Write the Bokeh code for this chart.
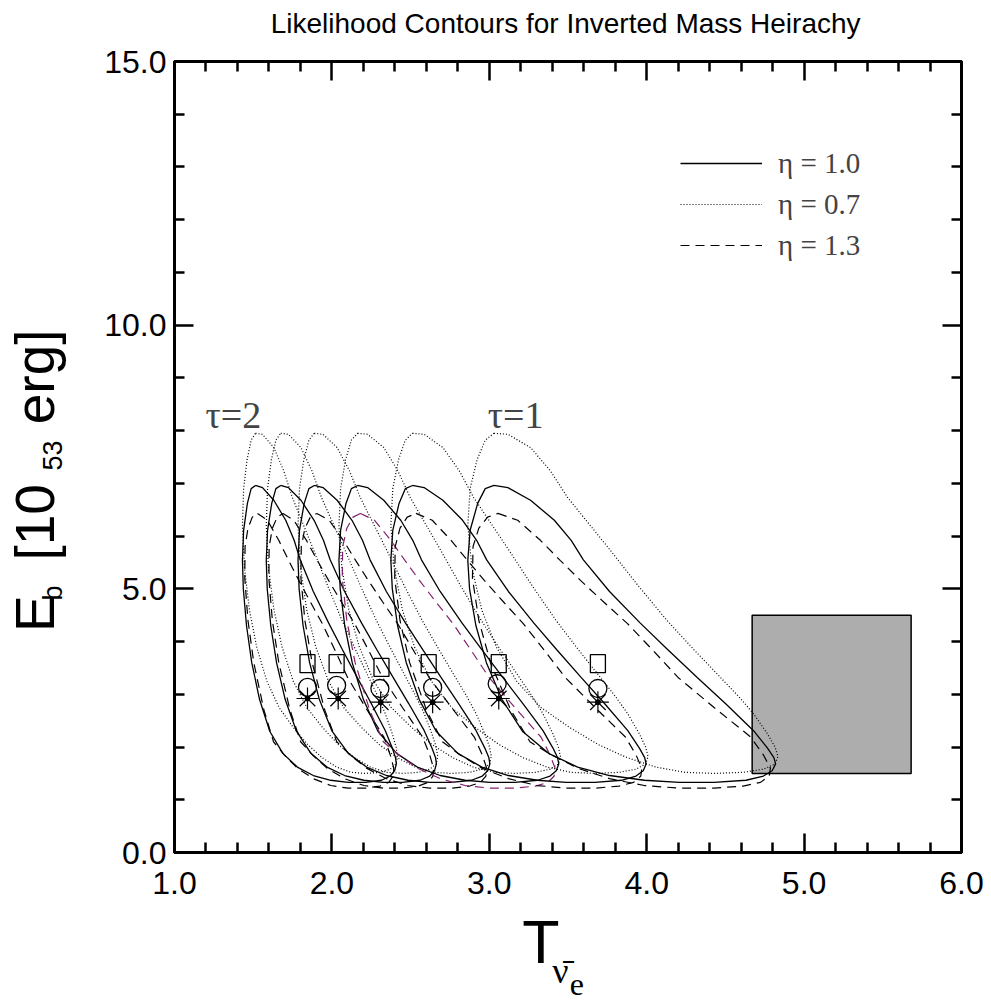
from bokeh.plotting import figure
from bokeh.models import (Range1d, LinearAxis, FixedTicker, PrintfTickFormatter,
                          Label, Legend, LegendItem)
from bokeh.embed import file_html
from bokeh.resources import INLINE

# ---------------- data ----------------
# true points (T of anti-nu_e, E_b) for the six tau values
square_T = [1.845, 2.03, 2.315, 2.615, 3.06, 3.69]
square_E = [3.58, 3.58, 3.51, 3.58, 3.58, 3.58]
circle_T = [1.845, 2.03, 2.305, 2.64, 3.05, 3.69]
circle_E = [3.13, 3.17, 3.11, 3.13, 3.20, 3.11]
star_T = [1.845, 2.04, 2.31, 2.64, 3.06, 3.69]
star_E = [2.92, 2.92, 2.85, 2.85, 2.92, 2.85]

# each group of contours has the same shape in units of its own temperature scale
group_T = [1.845, 2.04, 2.30, 2.635, 3.06, 3.69]

# contour outlines read from the tau=1 group, x in units of group_T (clockwise from top)
solid_r = [0.821, 0.845, 0.884, 0.925, 0.954, 0.975, 1.020, 1.073, 1.120, 1.171, 1.220,
           1.268, 1.292, 1.303, 1.306, 1.300, 1.285, 1.255, 1.200, 1.140, 1.080, 1.020,
           0.965, 0.915, 0.870, 0.835, 0.808, 0.790, 0.779, 0.776, 0.780, 0.793, 0.806, 0.821]
solid_E = [6.96, 6.92, 6.68, 6.30, 5.92, 5.55, 4.95, 4.35, 3.85, 3.32, 2.82,
           2.31, 1.98, 1.80, 1.68, 1.55, 1.45, 1.37, 1.33, 1.33, 1.37, 1.46,
           1.62, 1.88, 2.30, 2.90, 3.60, 4.30, 5.00, 5.54, 6.11, 6.62, 6.90, 6.96]

dotted_r = [0.821, 0.845, 0.884, 0.918, 0.948, 0.970, 1.020, 1.070, 1.119, 1.165, 1.211,
            1.243, 1.268, 1.292, 1.305, 1.310, 1.305, 1.285, 1.250, 1.200, 1.150, 1.100,
            1.050, 1.000, 0.950, 0.902, 0.860, 0.825, 0.800, 0.783, 0.776, 0.780, 0.792,
            0.806, 0.821]
dotted_E = [7.95, 7.93, 7.68, 7.24, 6.73, 6.43, 5.75, 5.05, 4.40, 3.85, 3.32,
            2.95, 2.63, 2.25, 2.00, 1.82, 1.68, 1.58, 1.52, 1.50, 1.52, 1.62,
            1.80, 2.05, 2.38, 2.75, 3.25, 3.90, 4.60, 5.40, 6.20, 6.90, 7.45,
            7.82, 7.95]

dashed_r = [0.828, 0.862, 0.901, 0.935, 0.970, 1.010, 1.051, 1.095, 1.138, 1.200, 1.263,
            1.285, 1.297, 1.295, 1.280, 1.250, 1.200, 1.140, 1.080, 1.020, 0.965, 0.920,
            0.883, 0.850, 0.815, 0.795, 0.784, 0.785, 0.795, 0.810, 0.828]
dashed_E = [6.43, 6.30, 5.92, 5.54, 5.16, 4.75, 4.34, 3.83, 3.32, 2.75, 2.19,
            1.85, 1.60, 1.45, 1.33, 1.26, 1.22, 1.22, 1.27, 1.40, 1.60, 1.85,
            2.10, 2.70, 3.60, 4.40, 5.20, 5.80, 6.15, 6.36, 6.43]

# shaded region
box_T = [4.67, 5.68]
box_E = [1.50, 4.50]

# axes
x_major = [1, 2, 3, 4, 5, 6]
x_minor = [1.2, 1.4, 1.6, 1.8, 2.2, 2.4, 2.6, 2.8, 3.2, 3.4, 3.6, 3.8,
           4.2, 4.4, 4.6, 4.8, 5.2, 5.4, 5.6, 5.8]
y_major = [0, 5, 10, 15]
y_minor = [1, 2, 3, 4, 6, 7, 8, 9, 11, 12, 13, 14]

legend_labels = ["η = 1.0", "η = 0.7", "η = 1.3"]
tau_labels = ["τ=2", "τ=1"]

# title and axis titles as (text, position along the axis)
title_piece = [("Likelihood Contours for Inverted Mass Heirachy", 3.485)]
xlabel_main = [("T", 3.328)]
xlabel_nu = [("ν\u0304", 3.452)]
xlabel_e = [("e", 3.557)]
ylabel_main = [("E", 4.53), ("[10", 6.26), ("erg]", 9.02)]
ylabel_sub = [("b", 4.92), ("53", 7.53)]

# ---------------- figure ----------------
SANS = "Liberation Sans"
SERIF = "Liberation Serif"

p = figure(width=991, height=1001, x_range=Range1d(1, 6), y_range=Range1d(0, 15),
           output_backend="svg", toolbar_location=None, title=None,
           x_axis_location=None, y_axis_location=None,
           min_border_left=174, min_border_right=30, min_border_top=61,
           min_border_bottom=149)
p.grid.visible = False
p.outline_line_color = "black"
p.outline_line_width = 3
p.background_fill_color = "white"
p.border_fill_color = "white"


def make_axis(major, minor, show_labels):
    ax = LinearAxis(ticker=FixedTicker(ticks=major, minor_ticks=minor),
                    formatter=PrintfTickFormatter(format="%.1f"))
    ax.major_tick_in = 19
    ax.major_tick_out = 0
    ax.minor_tick_in = 10
    ax.minor_tick_out = 0
    ax.major_tick_line_width = 2.5
    ax.minor_tick_line_width = 2.5
    ax.axis_line_width = 3
    if show_labels:
        ax.major_label_text_font = SANS
        ax.major_label_text_font_size = "32px"
        ax.major_label_text_color = "black"
    else:
        ax.major_label_text_font_size = "1px"
        ax.major_label_text_color = None
        ax.major_label_standoff = 0
    return ax


def text_axis(pieces, font, size, standoff, vertical=False):
    ticks = [pos for _, pos in pieces]
    ax = LinearAxis(ticker=FixedTicker(ticks=ticks, minor_ticks=[]))
    ax.major_label_overrides = {pos: txt for txt, pos in pieces}
    ax.axis_line_color = None
    ax.major_tick_line_color = None
    ax.minor_tick_line_color = None
    ax.major_tick_in = 0
    ax.major_tick_out = 0
    ax.minor_tick_in = 0
    ax.minor_tick_out = 0
    ax.major_label_standoff = standoff
    ax.major_label_text_font = font
    ax.major_label_text_font_size = size
    ax.major_label_text_color = "black"
    if vertical:
        ax.major_label_orientation = "vertical"
    return ax


# below: ticks, then T, then nu-bar, then e
bx = make_axis(x_major, x_minor, True)
bx.major_label_standoff = 19
p.add_layout(bx, "below")
p.add_layout(text_axis(xlabel_main, SANS, "61px", 11), "below")
p.add_layout(text_axis(xlabel_nu, SERIF, "36px", -28), "below")
p.add_layout(text_axis(xlabel_e, SERIF, "32px", -20), "below")

# left: ticks, then subscripts, then main text of the y title
ly = make_axis(y_major, y_minor, True)
ly.major_label_standoff = 8
p.add_layout(ly, "left")
p.add_layout(text_axis(ylabel_sub, SANS, "27px", 33, vertical=True), "left")
p.add_layout(text_axis(ylabel_main, SANS, "55px", -31, vertical=True), "left")

# above: frame ticks, then the title
p.add_layout(make_axis(x_major, x_minor, False), "above")
p.add_layout(text_axis(title_piece, SANS, "28px", 23), "above")
p.add_layout(make_axis(y_major, y_minor, False), "right")

# shaded box
p.quad(left=[box_T[0]], right=[box_T[1]], bottom=[box_E[0]], top=[box_E[1]],
       fill_color="#adadad", line_color="black", line_width=1.5)

# contours
first = {}
for g, s in enumerate(group_T):
    r1 = p.line([r * s for r in solid_r], solid_E, line_color="black", line_width=1.3)
    r2 = p.line([r * s for r in dotted_r], dotted_E, line_color="black", line_width=1.2,
                line_dash="1 2")
    dcol = "#84206e" if g == 3 else "black"
    r3 = p.line([r * s for r in dashed_r], dashed_E, line_color=dcol, line_width=1.2,
                line_dash="9 6")
    if g == 0:
        first = {"solid": r1, "dotted": r2, "dashed": r3}

# markers
p.rect(square_T, square_E, width=15, height=18, width_units="screen",
       height_units="screen", fill_color=None, line_color="black", line_width=1.3)
p.scatter(circle_T, circle_E, marker="circle", size=18, fill_color=None,
          line_color="black", line_width=1.3)
p.scatter(star_T, star_E, marker="asterisk", size=22, line_color="black", line_width=1.2)
p.scatter(star_T, star_E, marker="circle", size=5, fill_color="black", line_color="black")

# legend
legend = Legend(items=[LegendItem(label=legend_labels[0], renderers=[first["solid"]]),
                       LegendItem(label=legend_labels[1], renderers=[first["dotted"]]),
                       LegendItem(label=legend_labels[2], renderers=[first["dashed"]])],
                location=(506, 590), glyph_width=82, glyph_height=34, label_height=34,
                spacing=7, padding=0, margin=0, label_standoff=16,
                border_line_color=None, background_fill_alpha=0,
                label_text_font=SERIF, label_text_font_size="29px",
                label_text_baseline="middle")
p.add_layout(legend)

# tau labels (inside the frame)
p.add_layout(Label(x=1.197, y=8.29, text=tau_labels[0], text_font=SERIF,
                   text_font_size="38px", text_align="left", text_baseline="alphabetic"))
p.add_layout(Label(x=2.99, y=8.29, text=tau_labels[1], text_font=SERIF,
                   text_font_size="38px", text_align="left", text_baseline="alphabetic"))

open("out.html", "w").write(file_html(p, INLINE))
